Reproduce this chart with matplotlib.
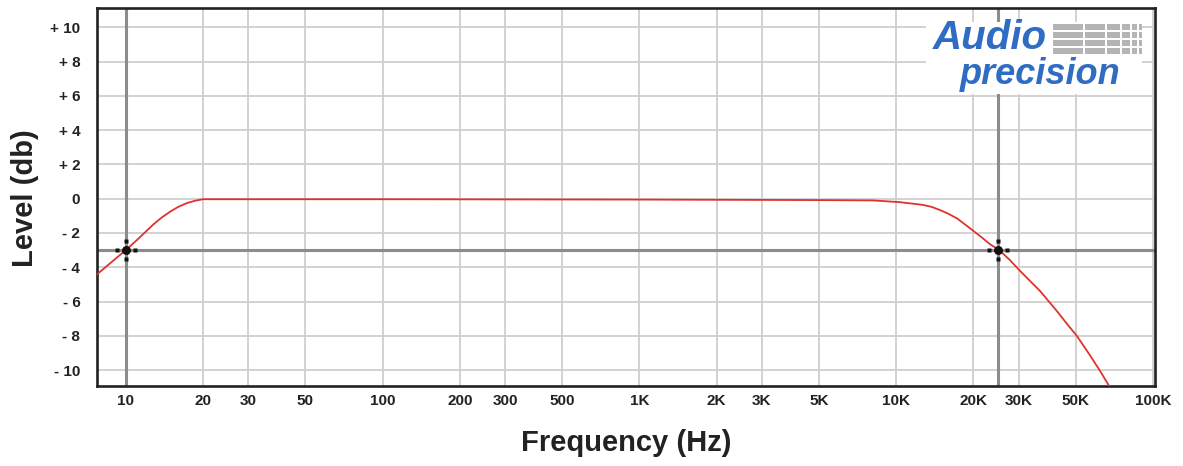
import matplotlib.pyplot as plt
from matplotlib.path import Path
from matplotlib.patches import Rectangle

plt.rcParams['font.family'] = ['Liberation Sans', 'DejaVu Sans']

# response curve
freq_hz = [7.75, 10, 11.04, 11.9, 12.81, 13.8, 14.88, 16.0, 17.28, 18.6, 20,
           30, 50, 100, 300, 1000, 3000, 5000, 8130, 10300, 12700, 13760,
           14800, 15970, 17300, 18530, 19900, 21540, 23200, 25200, 27800,
           30300, 33200, 36400, 42200, 46100, 50500, 56900, 62200, 67600, 70000]
level_db = [-4.4, -3.0, -2.42, -1.96, -1.5, -1.1, -0.76, -0.48, -0.26, -0.12,
            -0.03, -0.03, -0.03, -0.03, -0.04, -0.05, -0.07, -0.08, -0.1,
            -0.2, -0.36, -0.48, -0.66, -0.88, -1.16, -1.5, -1.86, -2.26, -2.66,
            -3.0, -3.6, -4.2, -4.8, -5.4, -6.55, -7.28, -8.0, -9.15, -10.05,
            -10.95, -11.35]

# -3 dB markers
marker_freqs = [10, 25000]
marker_levels = [-3, -3]

x_ticks = [10, 20, 30, 50, 100, 200, 300, 500, 1000, 2000, 3000, 5000,
           10000, 20000, 30000, 50000, 100000]
x_labels = ['10', '20', '30', '50', '100', '200', '300', '500', '1K', '2K', '3K',
            '5K', '10K', '20K', '30K', '50K', '100K']
y_ticks = [10, 8, 6, 4, 2, 0, -2, -4, -6, -8, -10]
y_labels = ['+ 10', '+ 8', '+ 6', '+ 4', '+ 2', '0', '- 2', '- 4', '- 6', '- 8', '- 10']

W, H = 1183, 466
fig = plt.figure(figsize=(W / 100, H / 100), dpi=100)
ax = fig.add_axes([97 / W, 1 - 386 / H, (1155 - 97) / W, (386 - 8) / H])

ax.set_xscale('log')
ax.set_xlim(7.73, 101800)
ax.set_ylim(-10.93, 11.13)
ax.set_xticks(x_ticks)
ax.set_xticklabels(x_labels)
ax.xaxis.set_minor_locator(plt.NullLocator())
ax.set_yticks(y_ticks)
ax.set_yticklabels(y_labels)
ax.tick_params(length=0, labelsize=11, colors='#222222')
ax.tick_params(axis='x', pad=6)
ax.tick_params(axis='y', pad=12)
for lab in ax.get_xticklabels() + ax.get_yticklabels():
    lab.set_fontweight('bold')

ax.grid(True, color='#cfcfcf', linewidth=1.3, zorder=0)
ax.set_axisbelow(True)
for f in marker_freqs:
    ax.axvline(f, color='#8c8c8c', linewidth=2.2, zorder=1)
ax.axhline(-3, color='#8c8c8c', linewidth=2.2, zorder=1)

ax.plot(freq_hz, level_db, color='#e0312e', linewidth=1.3, zorder=3)


def square(cx, cy, h):
    return Path([(cx - h, cy - h), (cx + h, cy - h), (cx + h, cy + h),
                 (cx - h, cy + h), (cx - h, cy - h)], closed=True)


cross_dot = Path.make_compound_path(
    Path.circle((0, 0), 4.5),
    square(-9, 0, 2.0), square(9, 0, 2.0),
    square(0, 9, 2.0), square(0, -9, 2.0))
ax.plot(marker_freqs, marker_levels, linestyle='none', marker=cross_dot,
        markersize=15.8, color='#111111', markeredgewidth=0, zorder=5)

for sp in ax.spines.values():
    sp.set_linewidth(1.9)
    sp.set_color('#222222')

fig.text(25 / W, 1 - 198 / H, 'Level (db)', rotation=90, ha='center', va='center',
         fontsize=21, fontweight='bold', color='#222222')
fig.text(626 / W, 1 - 443 / H, 'Frequency (Hz)', ha='center', va='center',
         fontsize=21, fontweight='bold', color='#222222')

# logo
fig.patches.append(Rectangle((926 / W, 1 - 94 / H), 216 / W, 72 / H,
                             transform=fig.transFigure, facecolor='white',
                             edgecolor='none', zorder=4))
bar_rows = [23, 31, 39, 47]
bar_widths = [30, 20, 13, 8, 5, 3]
for yb in bar_rows:
    xb = 1053
    for bw in bar_widths:
        fig.patches.append(Rectangle((xb / W, 1 - (yb + 7) / H), bw / W, 6 / H,
                                     transform=fig.transFigure, facecolor='#b4b4b4',
                                     edgecolor='none', zorder=5))
        xb += bw + 2
fig.text(990 / W, 1 - 38 / H, 'Audio', ha='center', va='center', fontsize=29,
         fontweight='bold', fontstyle='italic', color='#2f6cc3', zorder=6)
fig.text(1040 / W, 1 - 74 / H, 'precision', ha='center', va='center', fontsize=26,
         fontweight='bold', fontstyle='italic', color='#2f6cc3', zorder=6)

fig.savefig('out.png', dpi=100)
